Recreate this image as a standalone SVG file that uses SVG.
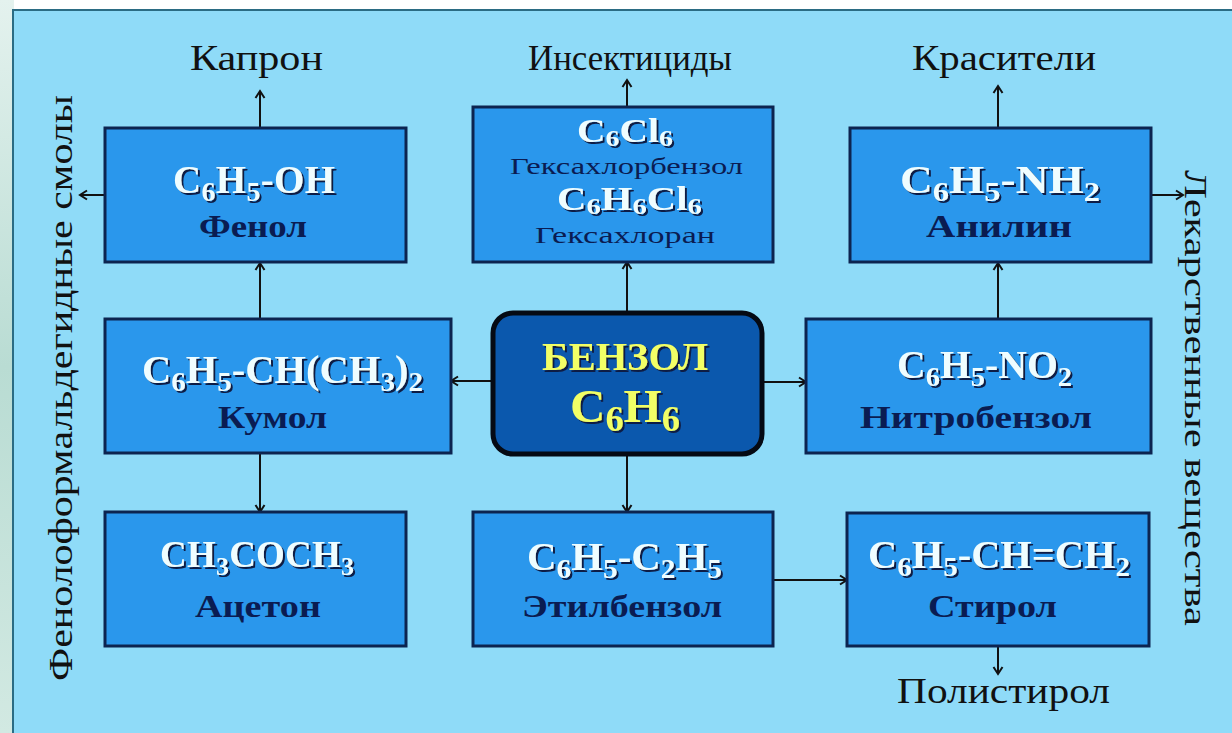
<svg xmlns="http://www.w3.org/2000/svg" width="1232" height="733" viewBox="0 0 1232 733">
<defs>
<linearGradient id="edge" x1="0" y1="0" x2="0" y2="1">
<stop offset="0" stop-color="#e4f2ee"/>
<stop offset="0.5" stop-color="#b9dcd3"/>
<stop offset="1" stop-color="#d2e9e2"/>
</linearGradient>
<filter id="sh" x="-10%" y="-30%" width="130%" height="170%">
<feDropShadow dx="2" dy="2" stdDeviation="0.5" flood-color="#071a44" flood-opacity="1"/>
</filter>
<marker id="ar" markerWidth="12" markerHeight="12" refX="9" refY="6" orient="auto" markerUnits="userSpaceOnUse">
<path d="M2,1.5 L9,6 L2,10.5" fill="none" stroke="#111" stroke-width="2"/>
</marker>
</defs>
<style>
.box{fill:#2a97ec;stroke:#0c2450;stroke-width:3}
.bz{fill:#0b58ad;stroke:#050a14;stroke-width:5}
.f{font-family:"Liberation Serif","DejaVu Serif",serif;font-weight:bold;font-size:39px;fill:#effdff;filter:url(#sh)}
.s{font-size:28px}
.hf{font-size:34px}
.hs{font-size:24px}
.n{font-family:"Liberation Serif","DejaVu Serif",serif;font-weight:bold;font-size:31px;fill:#0a1c52}
.nt{font-family:"Liberation Serif","DejaVu Serif",serif;font-size:24px;fill:#0a1c52}
.y{font-family:"Liberation Serif","DejaVu Serif",serif;font-weight:bold;fill:#f2ff66;filter:url(#sh)}
.lb{font-family:"Liberation Serif","DejaVu Serif",serif;font-size:36px;fill:#111}
.cn path{fill:none;stroke:#111;stroke-width:2;marker-end:url(#ar)}
</style>
<rect x="0" y="0" width="1232" height="733" fill="#ffffff"/>
<rect x="0" y="0" width="14" height="733" fill="url(#edge)"/>
<rect x="13" y="10" width="1225" height="730" fill="#8fdbf8" stroke="#2b6c84" stroke-width="2"/>

<g id="connectors" class="cn">
<path d="M260,128 V91"/>
<path d="M105,195 H80"/>
<path d="M260,319 V263"/>
<path d="M493,381 H451"/>
<path d="M260,453 V512"/>
<path d="M627,312 V262"/>
<path d="M627,107 V80"/>
<path d="M627,455 V512"/>
<path d="M762,382 H806"/>
<path d="M998,319 V263"/>
<path d="M998,128 V86"/>
<path d="M1151,195 H1183"/>
<path d="M773,580 H847"/>
<path d="M998,646 V674"/>
</g>

<g id="label-kapron"><text class="lb" x="190" y="70" textLength="133" lengthAdjust="spacingAndGlyphs">Капрон</text></g>
<g id="label-insekt"><text class="lb" x="528" y="70" textLength="204" lengthAdjust="spacingAndGlyphs">Инсектициды</text></g>
<g id="label-krasit"><text class="lb" x="912" y="70" textLength="184" lengthAdjust="spacingAndGlyphs">Красители</text></g>
<g id="label-polistirol"><text class="lb" x="897" y="703" textLength="213" lengthAdjust="spacingAndGlyphs">Полистирол</text></g>
<g id="label-smoly"><text class="lb" transform="translate(72,681) rotate(-90)" x="0" y="0" textLength="586" lengthAdjust="spacingAndGlyphs" style="font-size:33px">Фенолоформальдегидные смолы</text></g>
<g id="label-lekarst"><text class="lb" transform="translate(1185,170) rotate(90)" x="0" y="0" textLength="456" lengthAdjust="spacingAndGlyphs" style="font-size:32px">Лекарственные вещества</text></g>

<g id="phenol">
<rect class="box" x="105" y="128" width="301" height="134"/>
<text class="f" x="173" y="193" textLength="162" lengthAdjust="spacing">C<tspan class="s" dy="8">6</tspan><tspan dy="-8">H</tspan><tspan class="s" dy="8">5</tspan><tspan dy="-8">-OH</tspan></text>
<text class="n" x="199" y="237" textLength="108" lengthAdjust="spacingAndGlyphs">Фенол</text>
</g>

<g id="hexachlor">
<rect class="box" x="473" y="107" width="300" height="155"/>
<text class="f hf" x="577" y="142" textLength="96" lengthAdjust="spacingAndGlyphs">C<tspan class="hs" dy="4">6</tspan><tspan dy="-4">Cl</tspan><tspan class="hs" dy="4">6</tspan></text>
<text class="nt" x="510" y="174" textLength="233" lengthAdjust="spacingAndGlyphs">Гексахлорбензол</text>
<text class="f hf" x="557" y="210" textLength="145" lengthAdjust="spacingAndGlyphs">C<tspan class="hs" dy="4">6</tspan><tspan dy="-4">H</tspan><tspan class="hs" dy="4">6</tspan><tspan dy="-4">Cl</tspan><tspan class="hs" dy="4">6</tspan></text>
<text class="nt" x="535" y="243" textLength="180" lengthAdjust="spacingAndGlyphs">Гексахлоран</text>
</g>

<g id="aniline">
<rect class="box" x="850" y="128" width="301" height="134"/>
<text class="f" x="900" y="193" textLength="200" lengthAdjust="spacingAndGlyphs">C<tspan class="s" dy="8">6</tspan><tspan dy="-8">H</tspan><tspan class="s" dy="8">5</tspan><tspan dy="-8">-NH</tspan><tspan class="s" dy="8">2</tspan></text>
<text class="n" x="926" y="237" textLength="146" lengthAdjust="spacingAndGlyphs">Анилин</text>
</g>

<g id="cumene">
<rect class="box" x="105" y="319" width="346" height="134"/>
<text class="f" x="142" y="383" textLength="281" lengthAdjust="spacingAndGlyphs">C<tspan class="s" dy="8">6</tspan><tspan dy="-8">H</tspan><tspan class="s" dy="8">5</tspan><tspan dy="-8">-CH(CH</tspan><tspan class="s" dy="8">3</tspan><tspan dy="-8">)</tspan><tspan class="s" dy="8">2</tspan></text>
<text class="n" x="218" y="428" textLength="109" lengthAdjust="spacingAndGlyphs">Кумол</text>
</g>

<g id="benzene">
<rect class="bz" x="493" y="313" width="269" height="141" rx="20" ry="20"/>
<text class="y" x="542" y="370" textLength="166" lengthAdjust="spacingAndGlyphs" style="font-size:40px">БЕНЗОЛ</text>
<text class="y" x="570" y="422" textLength="110" lengthAdjust="spacingAndGlyphs" style="font-size:47px">C<tspan dy="9" style="font-size:35px">6</tspan><tspan dy="-9">H</tspan><tspan dy="9" style="font-size:35px">6</tspan></text>
</g>

<g id="nitrobenzene">
<rect class="box" x="806" y="319" width="345" height="134"/>
<text class="f" x="897" y="378" textLength="175" lengthAdjust="spacingAndGlyphs">C<tspan class="s" dy="8">6</tspan><tspan dy="-8">H</tspan><tspan class="s" dy="8">5</tspan><tspan dy="-8">-NO</tspan><tspan class="s" dy="8">2</tspan></text>
<text class="n" x="860" y="428" textLength="232" lengthAdjust="spacingAndGlyphs">Нитробензол</text>
</g>

<g id="acetone">
<rect class="box" x="105" y="512" width="301" height="134"/>
<text class="f" x="160" y="567" textLength="194" lengthAdjust="spacing" style="font-size:37px">CH<tspan dy="8" style="font-size:26px">3</tspan><tspan dy="-8">COCH</tspan><tspan dy="8" style="font-size:26px">3</tspan></text>
<text class="n" x="195" y="617" textLength="126" lengthAdjust="spacingAndGlyphs">Ацетон</text>
</g>

<g id="ethylbenzene">
<rect class="box" x="473" y="512" width="300" height="134"/>
<text class="f" x="527" y="570" textLength="195" lengthAdjust="spacingAndGlyphs">C<tspan class="s" dy="8">6</tspan><tspan dy="-8">H</tspan><tspan class="s" dy="8">5</tspan><tspan dy="-8">-C</tspan><tspan class="s" dy="8">2</tspan><tspan dy="-8">H</tspan><tspan class="s" dy="8">5</tspan></text>
<text class="n" x="522" y="617" textLength="200" lengthAdjust="spacingAndGlyphs">Этилбензол</text>
</g>

<g id="styrene">
<rect class="box" x="847" y="513" width="302" height="133"/>
<text class="f" x="868" y="568" textLength="262" lengthAdjust="spacingAndGlyphs">C<tspan class="s" dy="8">6</tspan><tspan dy="-8">H</tspan><tspan class="s" dy="8">5</tspan><tspan dy="-8">-CH=CH</tspan><tspan class="s" dy="8">2</tspan></text>
<text class="n" x="928" y="617" textLength="129" lengthAdjust="spacingAndGlyphs">Стирол</text>
</g>
</svg>
